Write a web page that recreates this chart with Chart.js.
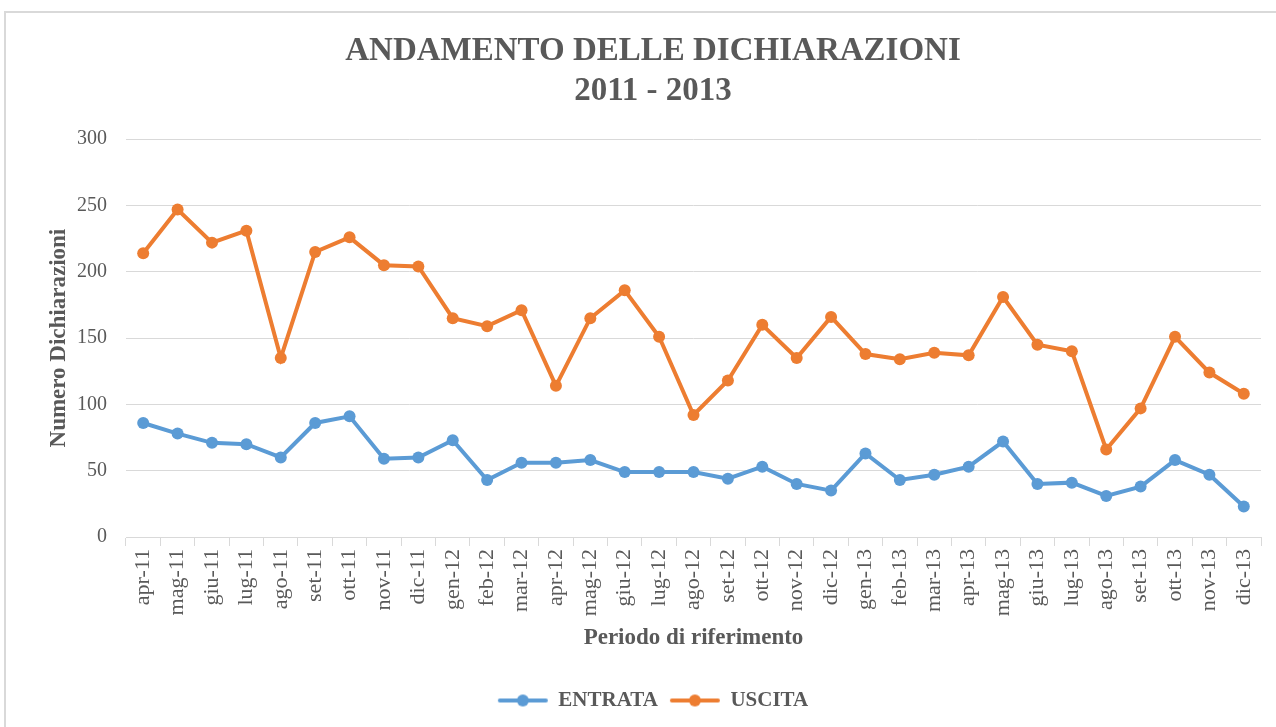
<!DOCTYPE html>
<html>
<head>
<meta charset="utf-8">
<script src="https://cdn.jsdelivr.net/npm/chart.js@4.4.0/dist/chart.umd.min.js"></script>
<style>
  html, body { margin: 0; padding: 0; background: #ffffff; overflow: hidden; }
  #frame { position: absolute; left: 4px; top: 11px; width: 1300px; height: 800px; border: 2px solid #d9d9d9; box-sizing: border-box; }
  #wrap { position: absolute; left: 0; top: 0; width: 1276px; height: 727px; }
</style>
</head>
<body>
<div id="frame"></div>
<div id="wrap"><canvas id="c" width="1276" height="727"></canvas></div>
<script>
const categories = ['apr-11','mag-11','giu-11','lug-11','ago-11','set-11','ott-11','nov-11','dic-11',
  'gen-12','feb-12','mar-12','apr-12','mag-12','giu-12','lug-12','ago-12','set-12','ott-12','nov-12','dic-12',
  'gen-13','feb-13','mar-13','apr-13','mag-13','giu-13','lug-13','ago-13','set-13','ott-13','nov-13','dic-13'];
const entrata = [86,78,71,70,60,86,91,59,60,73,43,56,56,58,49,49,49,44,53,40,35,63,43,47,53,72,40,41,31,38,58,47,23];
const uscita  = [214,247,222,231,135,215,226,205,204,165,159,171,114,165,186,151,92,118,160,135,166,138,134,139,137,181,145,140,66,97,151,124,108];
const yTicks = [0,50,100,150,200,250,300];
const titleLines = ['ANDAMENTO DELLE DICHIARAZIONI','2011 - 2013'];

const BLUE = '#5B9BD5', ORANGE = '#ED7D31', TXT = '#595959';
const SERIF = '"Liberation Serif", "Times New Roman", serif';

function legendMarker(color) {
  const cv = document.createElement('canvas');
  cv.width = 52; cv.height = 14;
  const g = cv.getContext('2d');
  g.strokeStyle = color; g.lineWidth = 4; g.lineCap = 'round';
  g.beginPath(); g.moveTo(3, 7); g.lineTo(49, 7); g.stroke();
  g.fillStyle = color; g.beginPath(); g.arc(26, 7, 6, 0, Math.PI * 2); g.fill();
  return cv;
}
const markers = [legendMarker(BLUE), legendMarker(ORANGE)];

new Chart(document.getElementById('c'), {
  type: 'line',
  data: {
    labels: categories,
    datasets: [
      { label: 'ENTRATA', data: entrata, borderColor: BLUE, backgroundColor: BLUE, borderWidth: 4,
        pointRadius: 6, pointHoverRadius: 6, pointBackgroundColor: BLUE, pointBorderWidth: 0, tension: 0 },
      { label: 'USCITA', data: uscita, borderColor: ORANGE, backgroundColor: ORANGE, borderWidth: 4,
        pointRadius: 6, pointHoverRadius: 6, pointBackgroundColor: ORANGE, pointBorderWidth: 0, tension: 0 }
    ]
  },
  options: {
    responsive: false,
    animation: false,
    layout: { padding: { left: 45, right: 15, top: 22, bottom: 6 } },
    plugins: {
      title: {
        display: true, text: titleLines, color: TXT,
        font: { family: SERIF, size: 33, weight: 'bold', lineHeight: 1.2 },
        padding: { top: 10, bottom: 28 }
      },
      legend: {
        position: 'bottom',
        labels: {
          color: TXT, font: { family: SERIF, size: 21, weight: 'bold' },
          usePointStyle: true, pointStyleWidth: 50, padding: 12,
          generateLabels: (chart) => chart.data.datasets.map((ds, i) => ({
            text: ds.label, pointStyle: markers[i], fillStyle: ds.borderColor,
            strokeStyle: ds.borderColor, lineWidth: 0, datasetIndex: i, hidden: false, fontColor: TXT
          }))
        }
      },
      tooltip: { enabled: false }
    },
    scales: {
      x: {
        offset: true,
        afterFit: (s) => { s.height = 141; },
        grid: { offset: true, drawOnChartArea: false, drawTicks: true, tickLength: 9, color: '#d9d9d9' },
        border: { color: '#d9d9d9', width: 1 },
        ticks: { color: TXT, font: { family: SERIF, size: 22 }, minRotation: 90, maxRotation: 90, autoSkip: false, padding: 3 },
        title: { display: true, text: 'Periodo di riferimento', color: TXT, font: { family: SERIF, size: 23, weight: 'bold' }, padding: { top: 4, bottom: 26 } }
      },
      y: {
        min: 0, max: 300,
        afterFit: (s) => { s.width = 81; },
        afterBuildTicks: (s) => { s.ticks = yTicks.map(v => ({ value: v })); },
        grid: { color: '#d9d9d9', drawTicks: false },
        border: { display: false },
        ticks: { color: TXT, font: { family: SERIF, size: 20 }, padding: 19 },
        title: { display: true, text: 'Numero Dichiarazioni', color: TXT, font: { family: SERIF, size: 23, weight: 'bold' }, padding: { top: 0, bottom: 4 } }
      }
    }
  }
});
</script>
</body>
</html>
